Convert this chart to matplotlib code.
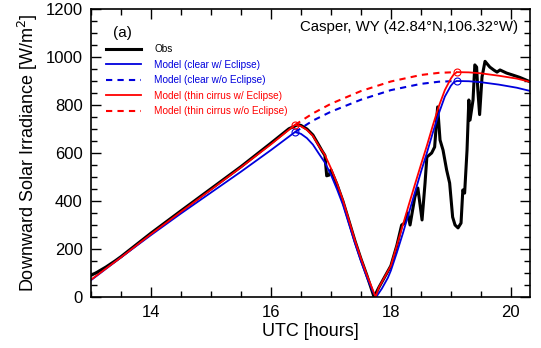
import numpy as np
import matplotlib
matplotlib.use("Agg")
import matplotlib.pyplot as plt
from matplotlib.ticker import MultipleLocator

plt.rcParams['font.family'] = ['Liberation Sans', 'DejaVu Sans']

# observed downward solar irradiance (black)
obs_t = [13.0, 13.1, 13.25, 13.4, 13.5, 14.0, 14.5, 15.0, 15.5, 16.0, 16.3, 16.45,
         16.5, 16.6, 16.7, 16.8, 16.85, 16.9, 16.93, 16.97, 17.0, 17.1, 17.2, 17.3,
         17.4, 17.5, 17.6, 17.72, 17.8, 17.9, 18.0, 18.1,
         18.18, 18.23, 18.28, 18.32, 18.4, 18.45, 18.52, 18.57,
         18.6, 18.68, 18.73, 18.78, 18.82, 18.87, 18.93, 18.98, 19.03, 19.07, 19.12,
         19.17, 19.2, 19.23, 19.27, 19.3, 19.32, 19.37, 19.4, 19.43, 19.45, 19.48,
         19.52, 19.57, 19.65, 19.72, 19.77, 19.82, 19.93, 20.03, 20.15, 20.33]
obs_v = [90, 103, 125, 150, 168, 266, 359, 451, 543, 641, 701, 718,
         715, 700, 675, 632, 610, 590, 505, 508, 530, 470, 400, 318,
         235, 160, 90, 0, 40, 85, 130, 215,
         300, 308, 350, 300, 417, 454, 321, 475,
         583, 600, 625, 792, 654, 612, 529, 475, 333, 300, 288,
         308, 446, 433, 612, 821, 737, 821, 967, 958, 862, 760,
         917, 982, 958, 945, 937, 946, 933, 925, 915, 896]

# model, clear sky, with eclipse (blue solid)
clr_t = [13.0, 13.5, 14.0, 14.5, 15.0, 15.5, 16.0, 16.4, 16.5, 16.6, 16.7, 16.8,
         16.9, 17.0, 17.1, 17.2, 17.3, 17.4, 17.5, 17.6, 17.7, 17.755, 17.85, 17.95,
         18.0, 18.1, 18.2, 18.3, 18.4, 18.5, 18.6, 18.7, 18.8, 18.9, 19.0, 19.05,
         19.1, 19.3, 19.5, 19.8, 20.1, 20.33]
clr_v = [70, 165, 258, 348, 435, 522, 612, 687, 680, 662, 635, 597,
         560, 510, 450, 385, 305, 225, 150, 82, 22, 0, 35, 80,
         110, 185, 265, 350, 435, 520, 600, 685, 765, 835, 880, 895,
         900, 899, 895, 885, 872, 858]

# model, thin cirrus, with eclipse (red solid)
cir_t = [13.0, 13.5, 14.0, 14.5, 15.0, 15.5, 16.0, 16.4, 16.5, 16.6, 16.7, 16.8,
         16.9, 17.0, 17.1, 17.2, 17.3, 17.4, 17.5, 17.6, 17.7, 17.745, 17.8, 17.9,
         18.0, 18.1, 18.2, 18.3, 18.4, 18.5, 18.6, 18.7, 18.8, 18.9, 19.0, 19.05,
         19.1, 19.3, 19.5, 19.8, 20.1, 20.33]
cir_v = [72, 165, 262, 355, 447, 540, 636, 717, 712, 696, 671, 629,
         592, 537, 475, 404, 321, 237, 162, 92, 29, 0, 40, 85,
         130, 215, 300, 385, 468, 550, 630, 715, 795, 862, 910, 928,
         937, 936, 932, 922, 910, 896]

# models without eclipse during the eclipse window (dashed)
noecl_t = [16.4, 16.7, 17.0, 17.5, 18.0, 18.5, 18.8, 19.1]
clr_noecl = [687, 735, 772, 822, 862, 888, 897, 900]
cir_noecl = [717, 765, 805, 858, 898, 925, 934, 937]

# eclipse start / end markers
ecl_t = [16.4, 19.1]
clr_mark = [687, 900]
cir_mark = [717, 937]

fig = plt.figure(figsize=(5.41, 3.48), dpi=100)
ax = fig.add_axes([91/541, 51/348, 439/541, 288/348])

ax.plot(obs_t, obs_v, color='black', lw=2.2, label='Obs')
ax.plot(clr_t, clr_v, color='#0000dd', lw=1.3, label='Model (clear w/ Eclipse)')
ax.plot(noecl_t, clr_noecl, color='#0000dd', lw=1.5, ls=(0, (3, 2.5)),
        label='Model (clear w/o Eclipse)')
ax.plot(cir_t, cir_v, color='#ff0000', lw=1.3, label='Model (thin cirrus w/ Eclipse)')
ax.plot(noecl_t, cir_noecl, color='#ff0000', lw=1.5, ls=(0, (3, 2.5)),
        label='Model (thin cirrus w/o Eclipse)')
ax.plot(ecl_t, clr_mark, 'o', mfc='none', mec='#0000dd', ms=5, mew=0.8)
ax.plot(ecl_t, cir_mark, 'o', mfc='none', mec='#ff0000', ms=5, mew=0.8)

ax.set_xlim(13.0, 20.32)
ax.set_ylim(0, 1200)
ax.xaxis.set_major_locator(MultipleLocator(2))
ax.xaxis.set_minor_locator(MultipleLocator(0.5))
ax.yaxis.set_major_locator(MultipleLocator(200))
ax.yaxis.set_minor_locator(MultipleLocator(50))
ax.tick_params(which='both', direction='in', top=True, right=True, width=1.0)
ax.tick_params(which='major', length=7, labelsize=12, pad=6)
ax.tick_params(which='minor', length=4)
for s in ax.spines.values():
    s.set_linewidth(1.2)

ax.set_xlabel('UTC [hours]', fontsize=13, labelpad=2)
ax.set_ylabel('Downward Solar Irradiance [W/m$^2$]', fontsize=13, labelpad=4)

ax.text(0.973, 0.9375, 'Casper, WY (42.84°N,106.32°W)', transform=ax.transAxes,
        ha='right', va='center', fontsize=10.8)
ax.text(0.05, 0.915, '(a)', transform=ax.transAxes, ha='left', va='center', fontsize=11)

leg = ax.legend(loc='upper left', bbox_to_anchor=(0.035, 0.878), frameon=False,
                fontsize=7.2, handlelength=3.5, handletextpad=1.3, labelspacing=0.55,
                borderpad=0, borderaxespad=0)
for txt, c in zip(leg.get_texts(), ['black', '#0000dd', '#0000dd', '#ff0000', '#ff0000']):
    txt.set_color(c)

fig.savefig('out.png', dpi=100)
